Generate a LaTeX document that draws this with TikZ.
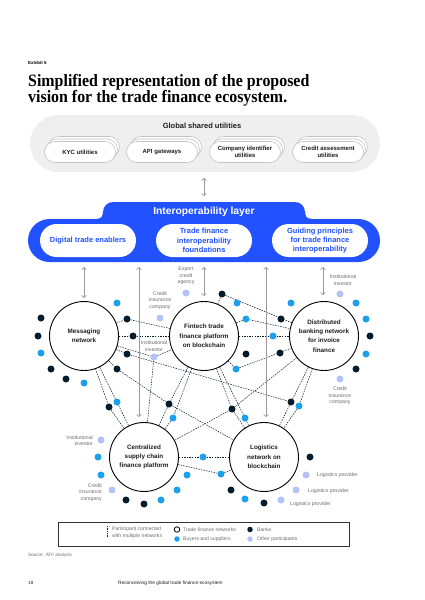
\documentclass[tikz,border=0pt]{standalone}
\usepackage{fontspec}
\setmainfont{Liberation Sans}
\newfontfamily\titlefont[FakeStretch=0.92]{Liberation Serif}
\usetikzlibrary{arrows.meta,backgrounds}
\definecolor{mblue}{HTML}{2251FF}
\definecolor{mnavy}{HTML}{051C2C}
\definecolor{mcyan}{HTML}{1CA0EC}
\definecolor{mlav}{HTML}{B3C2F7}
\definecolor{mgray}{HTML}{EFEFEF}
\definecolor{pillgray}{HTML}{C4C4C4}
\definecolor{arrgray}{HTML}{999999}
\definecolor{labgray}{HTML}{6E6E6E}
\definecolor{txtdark}{HTML}{1E1E1E}
\definecolor{legbox}{HTML}{333333}
\begin{document}
\begin{tikzpicture}[x=1pt,y=-1pt,
 util/.style={draw=pillgray,fill=white,rounded corners=10.5pt,minimum width=71pt,minimum height=21pt,line width=0.6pt,inner sep=0pt,align=center,font=\fontsize{6}{7.4}\selectfont\bfseries,text=txtdark},
 bpill/.style={fill=white,rounded corners=16.5pt,minimum width=96pt,minimum height=33pt,inner sep=0pt,align=center,font=\fontsize{7.5}{9.3}\selectfont\bfseries,text=mblue},
 net/.style={circle,draw=black,line width=0.9pt,fill=white,minimum size=69pt,inner sep=0pt,align=center,font=\fontsize{6.3}{9.3}\selectfont\bfseries,text=txtdark},
 ndot/.style={circle,fill=mnavy,minimum size=7pt,inner sep=0pt},
 cdot/.style={circle,fill=mcyan,minimum size=7pt,inner sep=0pt},
 ldot/.style={circle,fill=mlav,minimum size=7pt,inner sep=0pt},
 conn/.style={draw=mnavy,line width=0.5pt,dash pattern=on 1.5pt off 1.1pt},
 arr/.style={draw=arrgray,line width=0.6pt,{Straight Barb[length=2.2pt,width=4.6pt]}-{Straight Barb[length=2.2pt,width=4.6pt]}},
 lab/.style={font=\fontsize{5.2}{6.6}\selectfont,text=labgray,align=center,inner sep=0pt},
 leg/.style={font=\fontsize{5.1}{6.8}\selectfont,text=labgray,anchor=west,inner sep=0pt},
]
\useasboundingbox (0,0) rectangle (424,600);
\begin{scope}[on background layer]
 \fill[white] (0,0) rectangle (424,600);
\end{scope}

% header
\node[anchor=base west,inner sep=0pt,font=\fontsize{4.4}{5}\selectfont\bfseries] (exh) at (28,64) {Exhibit 5};
\node[anchor=base west,inner sep=0pt,font=\titlefont\bfseries\fontsize{17.3}{18}\selectfont] (t1) at (28,86.5) {Simplified representation of the proposed};
\node[anchor=base west,inner sep=0pt,font=\titlefont\bfseries\fontsize{17.3}{18}\selectfont] (t2) at (28,102.7) {vision for the trade finance ecosystem.};

% global shared utilities
\node[fill=mgray,rounded corners=28.5pt,minimum width=350pt,minimum height=57pt,inner sep=0pt] (gsu) at (205,143.5) {};
\node[font=\fontsize{7.5}{9}\selectfont\bfseries,text=txtdark,inner sep=0pt] (gsut) at (202,126) {Global shared utilities};
\foreach \cx/\nm/\tx in {80/kyc/{KYC utilities},162/api/{API gateways},245/cid/{Company identifier\\utilities},328/cas/{Credit assessment\\utilities}}{
  \node[util] (\nm b2) at (\cx+4,147) {};
  \node[util] (\nm b1) at (\cx+2,149.5) {};
  \node[util] (\nm) at (\cx,152) {\tx};
}
\coordinate (u1) at (204,178);
\coordinate (u2) at (204,196);
\draw[arr] (u1) -- (u2);

% interoperability layer
\fill[mblue,rounded corners=10pt] (103,240) -- (103,202) -- (305,202) -- (305,240) -- cycle;
\fill[mblue,rounded corners=21.5pt] (28,219) rectangle (380,262);
\fill[mblue] (95,219) .. controls (101,219) and (103,217) .. (103,211) -- (103,219) -- cycle;
\fill[mblue] (313,219) .. controls (307,219) and (305,217) .. (305,211) -- (305,219) -- cycle;
\node[text=white,font=\fontsize{10.3}{12}\selectfont\bfseries,inner sep=0pt] (ilt) at (204,212) {Interoperability layer};
\node[bpill] (dte) at (88,240.5) {Digital trade enablers};
\node[bpill] (tfi) at (204,240.5) {Trade finance\\interoperability\\foundations};
\node[bpill] (gp) at (320,240.5) {Guiding principles\\for trade finance\\interoperability};

% networks
\node[net] (M) at (84,336) {Messaging\\network};
\node[net] (F) at (204,336) {Fintech trade\\finance platform\\on blockchain};
\node[net] (D) at (324,336) {Distributed\\banking network\\for invoice\\finance};
\node[net] (C) at (144,457) {Centralized\\supply chain\\finance platform};
\node[net] (L) at (264,457) {Logistics\\network on\\blockchain};

% dots
\foreach \n/\x/\y in {n1/41/318,n2/38/336,n3/51/369,n4/66/379,n5/127/319,n6/133/336,n7/127/354,n8/117/369,n9/109/407,n10/169/404,n11/222/294,n12/281/319,n13/246/354,n14/291/402,n15/232/409,n16/280/353,n17/370/336,n18/356/369,n19/126/500,n20/144/504,n21/310/457,n22/231/490,n23/264/503}
  \node[ndot] (\n) at (\x,\y) {};
\foreach \n/\x/\y in {c1/117/303,c2/41/353,c3/84/383,c4/117/402,c5/173/418,c6/237/303,c7/246/319,c8/273/336,c9/291/303,c10/236/369,c11/356/303,c12/366/319,c13/366/354,c14/299/406,c15/245/418,c16/98/457,c17/101/475,c18/161/500,c19/177/490,c20/187/475,c21/203/457,c22/221/474,c23/245/499}
  \node[cdot] (\n) at (\x,\y) {};
\foreach \n/\x/\y in {l1/186/293,l2/160/318,l3/154/357,l4/340/294,l5/340/379,l6/101/440,l7/112/490,l8/306/475,l9/296/490,l10/281/500}
  \node[ldot] (\n) at (\x,\y) {};

% connectors
\begin{scope}[on background layer]
 \draw[conn] (M) -- (n5) -- (F);
 \draw[conn] (M) -- (n6) -- (F);
 \draw[conn] (M) -- (l3) -- (F);
 \draw[conn] (l3) -- (C);
 \draw[conn] (M) -- (n7) -- (n14);
 \draw[conn] (M) -- (n8) -- (n10) -- (L);
 \draw[conn] (M) -- (n9) -- (C);
 \draw[conn] (M) -- (c4) -- (C);
 \draw[conn] (F) -- (n10) -- (C);
 \draw[conn] (F) -- (c5) -- (C);
 \draw[conn] (F) -- (n11) -- (D);
 \draw[conn] (F) -- (c7) -- (D);
 \draw[conn] (F) -- (c8) -- (D);
 \draw[conn] (F) -- (c10) -- (D);
 \draw[conn] (F) -- (n15) -- (L);
 \draw[conn] (F) -- (c15) -- (L);
 \draw[conn] (D) -- (n15) -- (C);
 \draw[conn] (D) -- (n14) -- (L);
 \draw[conn] (D) -- (c14) -- (L);
 \draw[conn] (C) -- (c21) -- (L);
 \draw[conn] (C) -- (c22) -- (L);
\end{scope}

% arrows from the layer
\coordinate (a1t) at (84,267);  \coordinate (a1b) at (84,298);
\coordinate (a2t) at (139,267); \coordinate (a2b) at (139,417);
\coordinate (a3t) at (204,267); \coordinate (a3b) at (204,296);
\coordinate (a4t) at (266,267); \coordinate (a4b) at (266,417);
\coordinate (a5t) at (323,267); \coordinate (a5b) at (323,295);
\draw[arr] (a1t) -- (a1b);
\draw[arr] (a2t) -- (a2b);
\draw[arr] (a3t) -- (a3b);
\draw[arr] (a4t) -- (a4b);
\draw[arr] (a5t) -- (a5b);

% labels
\node[lab] (lb1) at (186,276) {Export\\credit\\agency};
\node[lab] (lb2) at (160,300.5) {Credit\\insurance\\company};
\node[lab] (lb3) at (154,346) {Institutional\\investor};
\node[lab] (lb4) at (343,280) {Institutional\\investor};
\node[lab] (lb5) at (340,396) {Credit\\insurance\\company};
\node[lab,align=right,anchor=east] (lb6) at (93,440.5) {Institutional\\investor};
\node[lab,align=right,anchor=east] (lb7) at (102,492.5) {Credit\\insurance\\company};
\node[lab,anchor=west] (lb8) at (317,475) {Logistics provider};
\node[lab,anchor=west] (lb9) at (308,491.5) {Logistics provider};
\node[lab,anchor=west] (lb10) at (290,504.5) {Logistics provider};

% legend
\node[draw=legbox,line width=0.8pt,minimum width=291pt,minimum height=24pt,inner sep=0pt] (legend) at (203.5,534) {};
\coordinate (lv1) at (107,526); \coordinate (lv2) at (107,537);
\draw[mnavy,line width=0.7pt,dash pattern=on 0.8pt off 0.9pt] (lv1) -- (lv2);
\node[leg,align=left] (lgt0) at (112,533) {Participant connected\\with multiple networks};
\node[circle,draw=black,line width=0.8pt,minimum size=5.5pt,inner sep=0pt] (lg1) at (177,529.5) {};
\node[leg] (lgt1) at (183,529.5) {Trade finance networks};
\node[circle,fill=mnavy,minimum size=5.5pt,inner sep=0pt] (lg2) at (250,529.5) {};
\node[leg] (lgt2) at (257,529.5) {Banks};
\node[circle,fill=mcyan,minimum size=5.5pt,inner sep=0pt] (lg3) at (177,539) {};
\node[leg] (lgt3) at (183,539) {Buyers and suppliers};
\node[circle,fill=mlav,minimum size=5.5pt,inner sep=0pt] (lg4) at (250,539) {};
\node[leg] (lgt4) at (257,539) {Other participants};

% footer
\node[anchor=base west,inner sep=0pt,font=\fontsize{4.6}{5}\selectfont,text=labgray] (src) at (28,556) {Source: ATF analysis};
\node[anchor=base west,inner sep=0pt,font=\fontsize{4.6}{5}\selectfont,text=txtdark] (pg) at (28,584) {18};
\node[anchor=base west,inner sep=0pt,font=\fontsize{4.8}{5}\selectfont,text=txtdark] (ft) at (118,584) {Reconceiving the global trade finance ecosystem};
\end{tikzpicture}
\end{document}
